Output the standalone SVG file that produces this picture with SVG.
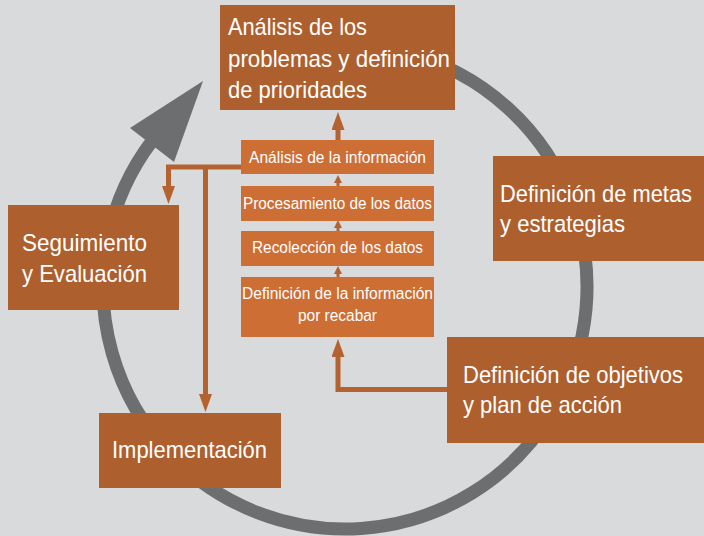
<svg xmlns="http://www.w3.org/2000/svg" width="704" height="536" viewBox="0 0 704 536">
<defs>
<style>
.bg{fill:#d9dadc}
.main{fill:#ae5f2e}
.sub{fill:#cd6e35}
.t{font-family:"Liberation Sans",Arial,sans-serif;fill:#ffffff}
.big{font-size:24px}
.sm{font-size:16px}
.con{fill:none;stroke:#b4622f;stroke-width:5}
.cons{fill:none;stroke:#b4622f;stroke-width:3}
</style>
<marker id="ah" markerUnits="userSpaceOnUse" viewBox="0 0 18 13" markerWidth="18" markerHeight="13" refX="0" refY="6.5" orient="auto">
<path d="M0,0 L18,6.5 L0,13 z" fill="#b4622f"/>
</marker>
<marker id="ahs" markerUnits="userSpaceOnUse" viewBox="0 0 8 8" markerWidth="8" markerHeight="8" refX="0" refY="4" orient="auto">
<path d="M0,0 L8,4 L0,8 z" fill="#b4622f"/>
</marker>
</defs>
<rect class="bg" x="0" y="0" width="704" height="536"/>
<g id="cycle">
<path d="M300,49.2 A242,242 0 1 1 152,141" fill="none" stroke="#6d6e70" stroke-width="13"/>
<polygon points="203,81 130,128 174,162" fill="#6d6e70"/>
</g>
<g id="connectors">
<path class="con" d="M338,140 V130" marker-end="url(#ah)"/>
<path class="cons" d="M338,186 V183" marker-end="url(#ahs)"/>
<path class="cons" d="M338,231 V228" marker-end="url(#ahs)"/>
<path class="cons" d="M338,277 V274" marker-end="url(#ahs)"/>
<path class="con" d="M241,167 H168.5 V186" marker-end="url(#ah)"/>
<path class="con" d="M205.5,167 V394" marker-end="url(#ah)"/>
<path class="con" d="M447,389.5 H338 V357" marker-end="url(#ah)"/>
</g>
<g id="analisis-problemas">
<rect class="main" x="220" y="5" width="235" height="105"/>
<text class="t big" x="228" y="35" textLength="139" lengthAdjust="spacingAndGlyphs">Análisis de los</text>
<text class="t big" x="228" y="67" textLength="222" lengthAdjust="spacingAndGlyphs">problemas y definición</text>
<text class="t big" x="228" y="98" textLength="139" lengthAdjust="spacingAndGlyphs">de prioridades</text>
</g>
<g id="metas">
<rect class="main" x="493" y="156" width="211" height="105"/>
<text class="t big" x="500" y="202" textLength="192" lengthAdjust="spacingAndGlyphs">Definición de metas</text>
<text class="t big" x="500" y="232" textLength="125" lengthAdjust="spacingAndGlyphs">y estrategias</text>
</g>
<g id="objetivos">
<rect class="main" x="447" y="337" width="257" height="106"/>
<text class="t big" x="463" y="383" textLength="220" lengthAdjust="spacingAndGlyphs">Definición de objetivos</text>
<text class="t big" x="463" y="413" textLength="159" lengthAdjust="spacingAndGlyphs">y plan de acción</text>
</g>
<g id="implementacion">
<rect class="main" x="99" y="413" width="182" height="75"/>
<text class="t big" x="112" y="458" textLength="155" lengthAdjust="spacingAndGlyphs">Implementación</text>
</g>
<g id="seguimiento">
<rect class="main" x="8" y="205" width="171" height="105"/>
<text class="t big" x="22" y="251" textLength="125" lengthAdjust="spacingAndGlyphs">Seguimiento</text>
<text class="t big" x="22" y="282" textLength="125" lengthAdjust="spacingAndGlyphs">y Evaluación</text>
</g>
<g id="analisis-informacion">
<rect class="sub" x="241" y="140" width="193" height="34"/>
<text class="t sm" x="249" y="163" textLength="177" lengthAdjust="spacingAndGlyphs">Análisis de la información</text>
</g>
<g id="procesamiento">
<rect class="sub" x="241" y="186" width="193" height="35"/>
<text class="t sm" x="243" y="209" textLength="189" lengthAdjust="spacingAndGlyphs">Procesamiento de los datos</text>
</g>
<g id="recoleccion">
<rect class="sub" x="241" y="231" width="193" height="35"/>
<text class="t sm" x="252" y="253" textLength="171" lengthAdjust="spacingAndGlyphs">Recolección de los datos</text>
</g>
<g id="definicion-informacion">
<rect class="sub" x="241" y="277" width="193" height="60"/>
<text class="t sm" x="242" y="299" textLength="191" lengthAdjust="spacingAndGlyphs">Definición de la información</text>
<text class="t sm" x="298" y="321" textLength="79" lengthAdjust="spacingAndGlyphs">por recabar</text>
</g>
</svg>
